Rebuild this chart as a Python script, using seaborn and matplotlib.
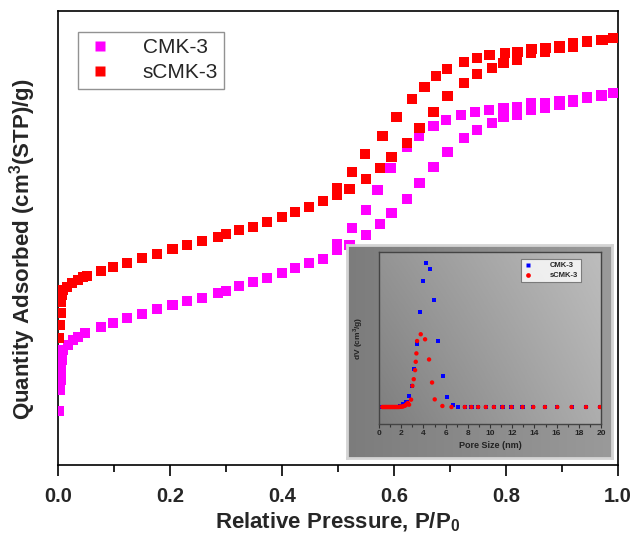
import numpy as np
import pandas as pd
import matplotlib
matplotlib.use("Agg")
import matplotlib.pyplot as plt
import seaborn as sns
from matplotlib.lines import Line2D

# ---------------- main isotherm data (arbitrary quantity units) ----------------
cmk3_ads_p = [0.002, 0.003, 0.004, 0.005, 0.006, 0.007, 0.009, 0.018, 0.027, 0.036, 0.048,
              0.077, 0.098, 0.123, 0.150, 0.177, 0.204, 0.230, 0.257, 0.286, 0.300, 0.323,
              0.348, 0.373, 0.400, 0.423, 0.448, 0.473, 0.498, 0.521, 0.550, 0.575, 0.596,
              0.623, 0.646, 0.671, 0.696, 0.725, 0.748, 0.775, 0.796, 0.820, 0.845, 0.870,
              0.896, 0.920, 0.945, 0.971, 0.991]
cmk3_ads_q = [54, 75, 85, 95, 105, 113, 115, 120, 125, 128, 132,
              138, 142, 147, 151, 156, 160, 164, 167, 172, 174, 179,
              183, 187, 192, 197, 202, 206, 215, 220, 230, 241, 252,
              266, 282, 298, 313, 327, 335, 342, 348, 350, 355, 357,
              360, 363, 367, 369, 372]
cmk3_des_p = [0.971, 0.945, 0.920, 0.896, 0.870, 0.845, 0.820, 0.796, 0.770, 0.745,
              0.720, 0.693, 0.671, 0.645, 0.623, 0.594, 0.571, 0.550, 0.525, 0.498]
cmk3_des_q = [370, 368, 365, 364, 362, 362, 358, 357, 355, 353,
              350, 345, 339, 329, 318, 297, 275, 255, 237, 221]

scmk3_ads_p = [0.002, 0.003, 0.004, 0.005, 0.006, 0.008, 0.016, 0.025, 0.036, 0.045, 0.052,
               0.077, 0.098, 0.123, 0.150, 0.177, 0.204, 0.230, 0.257, 0.286, 0.300, 0.323,
               0.348, 0.373, 0.400, 0.423, 0.448, 0.473, 0.498, 0.521, 0.550, 0.575, 0.596,
               0.623, 0.646, 0.671, 0.696, 0.725, 0.748, 0.775, 0.796, 0.820, 0.845, 0.870,
               0.896, 0.920, 0.945, 0.971, 0.991]
scmk3_ads_q = [127, 140, 152, 163, 170, 175, 178, 182, 185, 188, 189,
               194, 198, 202, 207, 211, 216, 220, 224, 228, 231, 235,
               238, 243, 248, 253, 258, 264, 270, 276, 286, 297, 308,
               322, 337, 353, 369, 382, 391, 397, 402, 405, 412, 413,
               417, 418, 423, 425, 427]
scmk3_des_p = [0.973, 0.945, 0.920, 0.896, 0.871, 0.846, 0.821, 0.798, 0.771, 0.748,
               0.725, 0.695, 0.675, 0.654, 0.632, 0.604, 0.579, 0.548, 0.525, 0.498]
scmk3_des_q = [425, 424, 422, 419, 417, 416, 413, 412, 410, 407,
               403, 396, 389, 378, 366, 348, 329, 311, 293, 277]

# ---------------- inset pore size distribution ----------------
cmk3_pore = [0.3, 0.5, 0.7, 0.9, 1.1, 1.3, 1.5, 1.7, 1.9, 2.17, 2.47, 2.71, 2.95, 3.19, 3.43,
             3.67, 3.97, 4.27, 4.63, 4.96, 5.32, 5.77, 6.14, 6.68, 7.13, 7.73, 8.33, 8.93,
             9.62, 10.35, 11.13, 11.94, 12.93, 13.9, 14.95, 16.06, 17.35, 18.65, 19.9]
cmk3_dv = [0, 0, 0, 0, 0, 0, 0, 0, 0.005, 0.019, 0.037, 0.077, 0.147, 0.263, 0.437,
           0.658, 0.874, 1.0, 0.958, 0.744, 0.458, 0.214, 0.072, 0.016, 0.0, 0, 0, 0,
           0, 0, 0, 0, 0, 0, 0, 0, 0, 0, 0]
scmk3_pore = [0.3, 0.4, 0.5, 0.6, 0.7, 0.8, 0.9, 1.0, 1.1, 1.2, 1.3, 1.4, 1.5, 1.6, 1.7,
              1.8, 1.9, 2.0, 2.1, 2.2, 2.3, 2.4, 2.5, 2.6, 2.71, 2.89, 3.01, 3.13, 3.25,
              3.31, 3.37, 3.43, 3.76, 4.15, 4.51, 4.78, 5.02, 5.71, 6.53, 7.73, 8.33,
              8.93, 9.62, 10.35, 11.13, 11.94, 12.93, 13.9, 14.95, 16.06, 17.35, 18.65, 19.9]
scmk3_dv = [0, 0, 0, 0, 0, 0, 0, 0, 0, 0, 0, 0, 0, 0, 0,
            0, 0.002, 0.002, 0.003, 0.005, 0.008, 0.012, 0.02, 0.028, 0.016, 0.051, 0.147,
            0.193, 0.256, 0.314, 0.372, 0.458, 0.505, 0.47, 0.33, 0.17, 0.053, 0.007, 0,
            0, 0, 0, 0, 0, 0, 0, 0, 0, 0, 0, 0, 0, 0]

x_ticks = [0.0, 0.2, 0.4, 0.6, 0.8, 1.0]
inset_ticks = list(range(0, 21, 2))

sns.set_theme(style="white")
plt.rcParams['font.family'] = ['Liberation Sans', 'DejaVu Sans']

W, H = 632, 539
fig = plt.figure(figsize=(W / 100, H / 100), dpi=100)
fig.patch.set_facecolor('white')

ax = fig.add_axes([58 / W, 1 - 465 / H, 560 / W, 454 / H])
ax.set_facecolor('white')

MAG = '#ff00ff'
RED = '#ff0000'
ms = 58

df_c_a = pd.DataFrame({'p': cmk3_ads_p, 'q': cmk3_ads_q})
df_c_d = pd.DataFrame({'p': cmk3_des_p, 'q': cmk3_des_q})
df_s_a = pd.DataFrame({'p': scmk3_ads_p, 'q': scmk3_ads_q})
df_s_d = pd.DataFrame({'p': scmk3_des_p, 'q': scmk3_des_q})

sns.scatterplot(data=df_c_a, x='p', y='q', marker='s', s=ms, color=MAG, edgecolor='none', ax=ax, zorder=3)
sns.scatterplot(data=df_c_d, x='p', y='q', marker='s', s=ms, color=MAG, edgecolor='none', ax=ax, zorder=3)
sns.scatterplot(data=df_s_a, x='p', y='q', marker='s', s=ms, color=RED, edgecolor='none', ax=ax, zorder=4)
sns.scatterplot(data=df_s_d, x='p', y='q', marker='s', s=ms, color=RED, edgecolor='none', ax=ax, zorder=4)

ax.set_xlim(0, 1.0)
ax.set_ylim(0, 454)
ax.set_xticks(x_ticks)
ax.set_xticklabels([f"{t:.1f}" for t in x_ticks], fontweight='bold', fontsize=14.5)
ax.set_xticks(np.arange(0.1, 1.0, 0.2), minor=True)
ax.tick_params(axis='x', which='major', direction='out', length=8, width=1.2, color='black', pad=8, bottom=True)
ax.tick_params(axis='x', which='minor', direction='out', length=5, width=1.2, color='black', bottom=True)
ax.set_yticks([])
for sp in ax.spines.values():
    sp.set_color('black')
    sp.set_linewidth(1.2)
    sp.set_visible(True)

ax.set_xlabel('Relative Pressure, P/P$_\\mathregular{0}$', fontsize=16, fontweight='bold', labelpad=3)
ax.set_ylabel('Quantity Adsorbed (cm$^\\mathregular{3}$(STP)/g)', fontsize=16, fontweight='bold')
ax.yaxis.set_label_coords(-0.036, 0.476)

handles = [Line2D([], [], linestyle='none', marker='s', markersize=7.5, color=MAG, markeredgecolor='none'),
           Line2D([], [], linestyle='none', marker='s', markersize=7.5, color=RED, markeredgecolor='none')]
leg = ax.legend(handles, ['CMK-3', 'sCMK-3'], loc='upper left', bbox_to_anchor=(20 / 560, 1 - 21 / 454),
                fontsize=15, frameon=True, fancybox=False, handletextpad=1.3, borderpad=0.3,
                labelspacing=0.3, handlelength=1.5, borderaxespad=0)
leg.get_frame().set_edgecolor('#777777')
leg.get_frame().set_linewidth(1.0)

# ---------------- inset ----------------
panel = fig.add_axes([347 / W, 1 - 458 / H, 265 / W, 213 / H])
gx = np.linspace(0, 1, 256)
grad = np.tile(gx, (64, 1))
cmap_panel = matplotlib.colors.LinearSegmentedColormap.from_list('p', ['#7c7c7c', '#9a9a9a'])
panel.imshow(grad, aspect='auto', cmap=cmap_panel, extent=[0, 1, 0, 1])
panel.set_xlim(0, 1)
panel.set_ylim(0, 1)
panel.set_xticks([])
panel.set_yticks([])
for sp in panel.spines.values():
    sp.set_color('#d4d4d4')
    sp.set_linewidth(2)
panel.set_zorder(5)

ins = fig.add_axes([379 / W, 1 - 424 / H, 222 / W, 172 / H])
ins.set_zorder(6)
yy, xx = np.mgrid[0:1:128j, 0:1:256j]
g2 = 0.55 + 0.45 * xx - 0.25 * (1 - yy) * (1 - 0.3 * xx)
cmap_in = matplotlib.colors.LinearSegmentedColormap.from_list('i', ['#7e7e7e', '#bdbdbd'])
ins.imshow(g2, aspect='auto', cmap=cmap_in, extent=[0, 20, -0.118, 1.076], origin='lower', vmin=0.3, vmax=1.0, zorder=0)

df_pc = pd.DataFrame({'d': cmk3_pore, 'v': cmk3_dv})
df_ps = pd.DataFrame({'d': scmk3_pore, 'v': scmk3_dv})
sns.scatterplot(data=df_pc, x='d', y='v', marker='s', s=9, color='#0000ff', edgecolor='none', ax=ins, zorder=3)
sns.scatterplot(data=df_ps, x='d', y='v', marker='o', s=10, color='#ff0000', edgecolor='none', ax=ins, zorder=4)
ins.set_xlim(0, 20)
ins.set_ylim(-0.118, 1.076)
ins.set_xticks(inset_ticks)
ins.set_xticklabels([str(t) for t in inset_ticks], fontsize=6, fontweight='bold', color='#222222')
ins.set_xticks(np.arange(1, 20, 2), minor=True)
ins.tick_params(axis='x', which='major', direction='out', length=3, width=0.8, color='#333333', pad=1.5, bottom=True)
ins.tick_params(axis='x', which='minor', direction='out', length=1.8, width=0.8, color='#333333', bottom=True)
ins.set_yticks([])
for sp in ins.spines.values():
    sp.set_color('#444444')
    sp.set_linewidth(1.0)
ins.set_xlabel('Pore Size (nm)', fontsize=6.5, fontweight='bold', color='#222222', labelpad=3)
ins.set_ylabel('dV (cm$^\\mathregular{3}$/g)', fontsize=6, fontweight='bold', color='#222222', labelpad=10)

h2 = [Line2D([], [], linestyle='none', marker='s', markersize=3.2, color='#0000ff', markeredgecolor='none'),
      Line2D([], [], linestyle='none', marker='o', markersize=3.4, color='#ff0000', markeredgecolor='none')]
leg2 = ins.legend(h2, ['CMK-3', 'sCMK-3'], loc='upper right', bbox_to_anchor=(1 - 20 / 222, 1 - 7 / 172),
                  prop={'size': 5.5, 'weight': 'bold'}, frameon=True, fancybox=False,
                  handletextpad=2.2, borderpad=0.4, labelspacing=0.35, handlelength=1.2, borderaxespad=0)
leg2.get_frame().set_edgecolor('#666666')
leg2.get_frame().set_facecolor('white')
leg2.get_frame().set_linewidth(0.8)

fig.savefig('out.png', dpi=100, facecolor='white')
